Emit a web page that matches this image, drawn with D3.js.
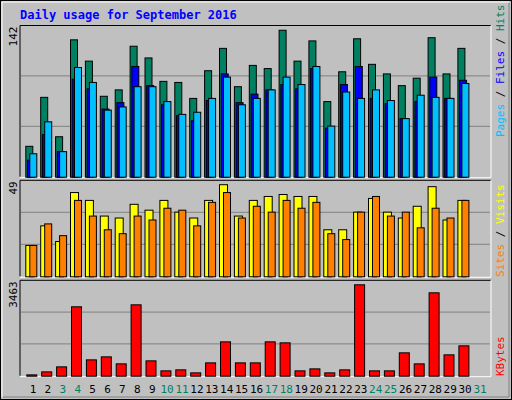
<!DOCTYPE html><html><head><meta charset="utf-8"><script src="https://cdn.jsdelivr.net/npm/d3@7"></script>
<style>body{margin:0;background:#fff}</style></head><body><svg id="c" width="512" height="400"></svg>
<script>
const days=d3.range(1,32);
const dataDays=d3.range(1,31);
const hits=[29,75,38,129,109,76,82,123,112,90,89,74,100,121,85,105,102,138,109,128,71,99,130,106,97,86,93,131,97,121];
const files=[16,40,24,92,83,64,70,104,86,68,58,53,72,97,70,78,82,87,83,102,46,87,104,74,69,55,71,94,74,91];
const pages=[22,52,24,103,89,63,66,85,85,71,59,61,74,94,68,74,82,94,87,104,48,80,74,82,72,55,77,75,74,88];
const sites=[16,26,18,43,39,31,30,37,34,39,33,30,39,47,31,39,41,42,41,41,24,24,33,40,33,30,36,46,29,39];
const visits=[16,27,21,39,31,24,22,31,29,35,34,26,38,43,30,36,33,39,35,38,22,19,33,41,31,33,25,35,30,39];
const kbytes=[48,157,339,2519,593,702,448,2591,557,194,230,121,484,1247,484,484,1247,1211,194,266,121,230,3318,194,194,848,448,3027,775,1102];
const weekend=[3,4,10,11,17,18,24,25,31];
const svg=d3.select("#c");
const F="DejaVu Sans Mono, monospace";
svg.append("rect").attr("x",0.5).attr("y",0.5).attr("width",511).attr("height",399).attr("fill","#c0c0c0").attr("stroke","#000");
svg.append("path").attr("d","M2,397V2H509").attr("fill","none").attr("stroke","#fff");
svg.append("path").attr("d","M3,397H509V3").attr("fill","none").attr("stroke","#808080");
svg.append("text").attr("x",20).attr("y",19).attr("fill","#0000ff").attr("font-family",F).attr("font-weight","bold").attr("font-size",12).text("Daily usage for September 2016");
const x=d3.scaleLinear().domain([1,31]).range([33,480]);
const L=20,R=491;
function panel(y0,y1,max,title,parts){
  const y=d3.scaleLinear().domain([0,max]).range([y1,y0]);
  const h=y1-y0;
  svg.append("path").attr("d",`M${L},${y1}V${y0}H${R}`).attr("fill","none").attr("stroke","#000");
  svg.append("path").attr("d",`M${L},${y1+1}H${R}V${y0}`).attr("fill","none").attr("stroke","#fff");
  [1,2].forEach(k=>svg.append("line").attr("x1",L+1).attr("x2",R-1).attr("y1",y1-h*k/3).attr("y2",y1-h*k/3).attr("stroke","#808080"));
  svg.append("text").attr("transform",`translate(17,${y0+1}) rotate(-90)`).attr("text-anchor","end").attr("font-family",F).attr("font-size",11).text(title);
  return y;
}
function bars(y,vals,off,w,col){
  svg.append("g").selectAll("rect").data(vals).join("rect")
   .attr("x",(d,i)=>x(i+1)+off+0.5).attr("width",w).attr("y",d=>y(d)+0.5).attr("height",d=>Math.max(0,y(0)-y(d)))
   .attr("fill",col).attr("stroke","#000");
}
const y1=panel(25.5,176.7,142,"142");
bars(y1,hits,-7.7,7,"#008060");
bars(y1,files,-6,7,"#0000ff");
bars(y1,pages,-3.7,7,"#00c0ff");
const y2=panel(180.3,276.3,49,"49");
bars(y2,sites,-7.7,8,"#ffff00");
bars(y2,visits,-3.7,7,"#ff8000");
const y3=panel(280.3,375.7,3463,"3463");
bars(y3,kbytes,-6.7,10,"#ff0000");
function rlabel(yb,parts){
  const t=svg.append("text").attr("transform",`translate(504,${yb}) rotate(-90)`).attr("font-family",F).attr("font-size",11);
  parts.forEach(p=>t.append("tspan").attr("fill",p[1]).text(p[0]));
}
rlabel(137,[["Pages","#00c0ff"],[" / ","#000"],["Files","#0000ff"],[" / ","#000"],["Hits","#008060"]]);
rlabel(277,[["Sites","#ff8000"],[" / ","#000"],["Visits","#ffff00"]]);
rlabel(376,[["KBytes","#ff0000"]]);
svg.append("g").selectAll("text").data(days).join("text").attr("x",d=>x(d)).attr("y",393).attr("text-anchor","middle")
 .attr("font-family",F).attr("font-size",11).attr("fill",d=>weekend.includes(d)?"#008060":"#000").text(d=>d);
</script></body></html>
